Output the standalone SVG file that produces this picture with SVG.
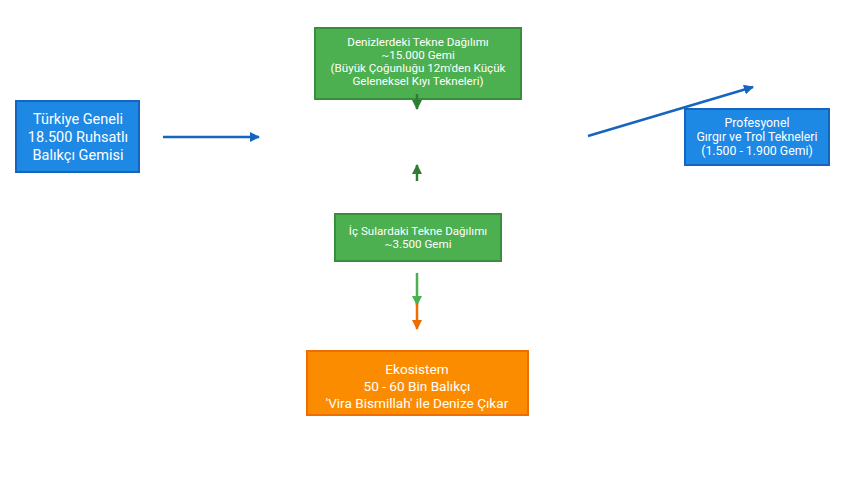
<svg xmlns="http://www.w3.org/2000/svg" width="848" height="478" viewBox="0 0 848 478">
<defs>
<style>
.t{font-family:Roboto,"Liberation Sans",sans-serif;fill:#fff;text-anchor:middle}
.g{fill:#4caf50;stroke:#388e3c;stroke-width:2}
.b{fill:#1e88e5;stroke:#1565c0;stroke-width:2}
.o{fill:#fb8c00;stroke:#ef6c00;stroke-width:2}
</style>
<marker id="ab" viewBox="0 0 10 10" refX="9" refY="5" markerWidth="4" markerHeight="4" orient="auto"><path d="M0,0 L10,5 L0,10 z" fill="#1565c0"/></marker>
<marker id="ag" viewBox="0 0 10 10" refX="9" refY="5" markerWidth="4" markerHeight="4" orient="auto"><path d="M0,0 L10,5 L0,10 z" fill="#2e7d32"/></marker>
<marker id="al" viewBox="0 0 10 10" refX="9" refY="5" markerWidth="4" markerHeight="4" orient="auto"><path d="M0,0 L10,5 L0,10 z" fill="#4caf50"/></marker>
<marker id="ao" viewBox="0 0 10 10" refX="9" refY="5" markerWidth="4" markerHeight="4" orient="auto"><path d="M0,0 L10,5 L0,10 z" fill="#ef6c00"/></marker>
</defs>
<rect width="848" height="478" fill="#fff"/>
<g id="n-deniz">
<rect class="g" x="315" y="28" width="206" height="71"/>
<text class="t" font-size="11.6"><tspan x="418" y="46">Denizlerdeki Tekne Dağılımı</tspan><tspan x="418" y="59">~15.000 Gemi</tspan><tspan x="418" y="72">(Büyük Çoğunluğu 12m'den Küçük</tspan><tspan x="418" y="85">Geleneksel Kıyı Tekneleri)</tspan></text>
</g>
<g id="n-turkiye">
<rect class="b" x="16" y="101" width="123" height="71"/>
<text class="t" font-size="14.5"><tspan x="78" y="124">Türkiye Geneli</tspan><tspan x="78" y="142">18.500 Ruhsatlı</tspan><tspan x="78" y="160">Balıkçı Gemisi</tspan></text>
</g>
<g id="n-profesyonel">
<rect class="b" x="685" y="109" width="144" height="56"/>
<text class="t" font-size="12.3"><tspan x="757" y="127">Profesyonel</tspan><tspan x="757" y="141">Gırgır ve Trol Tekneleri</tspan><tspan x="757" y="155">(1.500 - 1.900 Gemi)</tspan></text>
</g>
<g id="n-ic">
<rect class="g" x="335" y="214" width="166" height="47"/>
<text class="t" font-size="11.6"><tspan x="418" y="235">İç Sulardaki Tekne Dağılımı</tspan><tspan x="418" y="248">~3.500 Gemi</tspan></text>
</g>
<g id="n-eko">
<rect class="o" x="307" y="351" width="221" height="64"/>
<text class="t" font-size="13.6"><tspan x="417" y="374">Ekosistem</tspan><tspan x="417" y="391">50 - 60 Bin Balıkçı</tspan><tspan x="417" y="408">'Vira Bismillah' ile Denize Çıkar</tspan></text>
</g>
<g id="connectors" fill="none" stroke-width="2.5">
<line x1="163" y1="137" x2="259" y2="137" stroke="#1565c0" marker-end="url(#ab)"/>
<line x1="588" y1="136" x2="753" y2="87" stroke="#1565c0" marker-end="url(#ab)"/>
<line x1="417" y1="94" x2="417" y2="109" stroke="#2e7d32" marker-end="url(#ag)"/>
<line x1="417" y1="181" x2="417" y2="165" stroke="#2e7d32" marker-end="url(#ag)"/>
<line x1="417" y1="273" x2="417" y2="305" stroke="#4caf50" marker-end="url(#al)"/>
<line x1="417" y1="303" x2="417" y2="329" stroke="#ef6c00" marker-end="url(#ao)"/>
</g>
</svg>
